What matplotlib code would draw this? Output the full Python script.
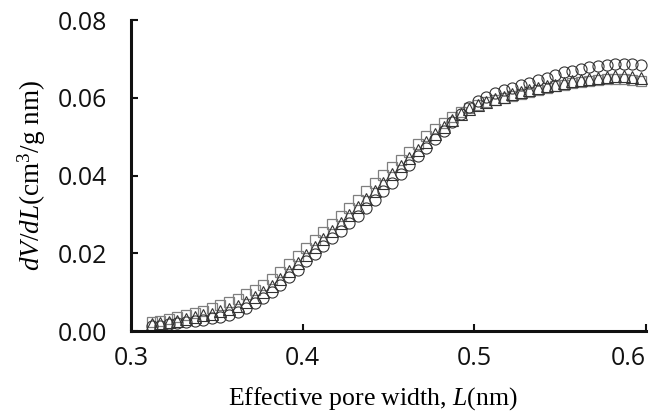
import matplotlib
matplotlib.use("Agg")
import matplotlib.pyplot as plt

# pore width grid (nm)
pore_width = [0.312, 0.317, 0.322, 0.327, 0.332, 0.337, 0.342, 0.347, 0.352, 0.357,
              0.362, 0.367, 0.372, 0.377, 0.382, 0.387, 0.392, 0.397, 0.402, 0.407,
              0.412, 0.417, 0.422, 0.427, 0.432, 0.437, 0.442, 0.447, 0.452, 0.457,
              0.462, 0.467, 0.472, 0.477, 0.482, 0.487, 0.492, 0.497, 0.502, 0.507,
              0.512, 0.517, 0.522, 0.527, 0.532, 0.537, 0.542, 0.547, 0.552, 0.557,
              0.562, 0.567, 0.572, 0.577, 0.582, 0.587, 0.592, 0.597]

psd_square = [0.0023, 0.0027, 0.0031, 0.0036, 0.0041, 0.0046, 0.0052, 0.0059, 0.0066, 0.0074,
              0.0083, 0.0094, 0.0106, 0.0119, 0.0135, 0.0152, 0.0172, 0.0192, 0.0213, 0.0233,
              0.0254, 0.0275, 0.0296, 0.0317, 0.0338, 0.0359, 0.0380, 0.0401, 0.0421, 0.0441,
              0.0461, 0.0481, 0.0501, 0.0519, 0.0536, 0.0551, 0.0563, 0.0573, 0.0581, 0.0588,
              0.0594, 0.0600, 0.0605, 0.0610, 0.0615, 0.0620, 0.0625, 0.0629, 0.0633, 0.0637,
              0.0640, 0.0643, 0.0645, 0.0647, 0.0648, 0.0647, 0.0645, 0.0642]

psd_triangle = [0.0017, 0.0020, 0.0023, 0.0027, 0.0031, 0.0035, 0.0040, 0.0045, 0.0051, 0.0057,
                0.0065, 0.0075, 0.0087, 0.0101, 0.0117, 0.0135, 0.0155, 0.0175, 0.0196, 0.0216,
                0.0236, 0.0257, 0.0277, 0.0298, 0.0319, 0.0340, 0.0361, 0.0382, 0.0403, 0.0424,
                0.0445, 0.0466, 0.0487, 0.0507, 0.0526, 0.0544, 0.0559, 0.0572, 0.0582, 0.0590,
                0.0597, 0.0603, 0.0609, 0.0614, 0.0619, 0.0624, 0.0629, 0.0634, 0.0638, 0.0642,
                0.0646, 0.0649, 0.0652, 0.0654, 0.0655, 0.0655, 0.0654, 0.0651]

psd_circle = [0.0012, 0.0014, 0.0017, 0.0020, 0.0023, 0.0026, 0.0029, 0.0033, 0.0037, 0.0042,
              0.0050, 0.0060, 0.0072, 0.0086, 0.0100, 0.0118, 0.0138, 0.0158, 0.0179, 0.0199,
              0.0219, 0.0239, 0.0258, 0.0277, 0.0297, 0.0317, 0.0338, 0.0360, 0.0382, 0.0404,
              0.0427, 0.0449, 0.0471, 0.0493, 0.0515, 0.0537, 0.0558, 0.0576, 0.0591, 0.0603,
              0.0612, 0.0619, 0.0626, 0.0632, 0.0638, 0.0645, 0.0652, 0.0659, 0.0665, 0.0670,
              0.0674, 0.0678, 0.0681, 0.0684, 0.0686, 0.0687, 0.0686, 0.0683]

x_ticks = [0.3, 0.4, 0.5, 0.6]
y_ticks = [0.00, 0.02, 0.04, 0.06, 0.08]

plt.rcParams['mathtext.fontset'] = 'custom'
plt.rcParams['mathtext.rm'] = 'Liberation Serif'
plt.rcParams['mathtext.it'] = 'Liberation Serif:italic'

fig = plt.figure(figsize=(6.62, 4.15), dpi=100)
ax = fig.add_axes([0.198, 0.2024, 0.778, 0.7494])

ms = 8.0
ax.plot(pore_width, psd_square, ls='none', marker='s', ms=ms - 0.6, mfc='none',
        mec='#7f7f7f', mew=0.9, clip_on=False)
ax.plot(pore_width, psd_triangle, ls='none', marker='^', ms=ms, mfc='none',
        mec='#333333', mew=0.8, clip_on=False)
ax.plot(pore_width, psd_circle, ls='none', marker='o', ms=ms, mfc='none',
        mec='#333333', mew=0.8, clip_on=False)

ax.set_xlim(0.3, 0.6)
ax.set_ylim(0.0, 0.08)
ax.set_xticks(x_ticks)
ax.set_xticklabels([f"{v:.1f}" for v in x_ticks])
ax.set_yticks(y_ticks)
ax.set_yticklabels([f"{v:.2f}" for v in y_ticks])

for side in ['top', 'right']:
    ax.spines[side].set_visible(False)
for side in ['left', 'bottom']:
    ax.spines[side].set_linewidth(2.2)
    ax.spines[side].set_color('#111111')

ax.tick_params(axis='both', direction='in', length=5, width=1.5, color='#111111',
               labelsize=18)
ax.tick_params(axis='y', pad=17)
ax.tick_params(axis='x', pad=11)
for lab in ax.get_xticklabels() + ax.get_yticklabels():
    lab.set_family('Open Sans')
    lab.set_color('#111111')
# last x label sits inside the figure edge
ax.get_xticklabels()[-1].set_horizontalalignment('right')

ax.set_xlabel(r'Effective pore width, $L$(nm)', fontsize=18.5, family='Liberation Serif')
ax.set_ylabel(r'$dV/dL$(cm$^3$/g nm)', fontsize=19.5, family='Liberation Serif')
ax.xaxis.set_label_coords(0.47, -0.175)
ax.yaxis.set_label_coords(-0.162, 0.5)

fig.savefig('out.png', dpi=100)
